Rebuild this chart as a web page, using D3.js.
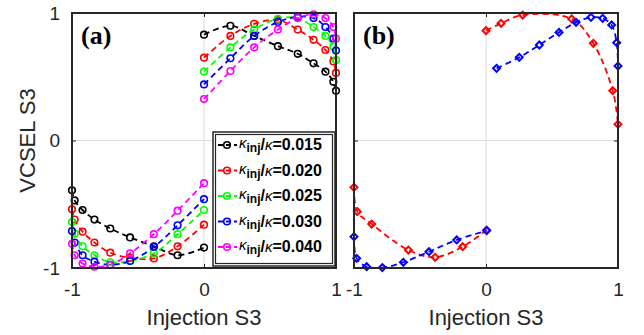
<!DOCTYPE html>
<html>
<head>
<meta charset="utf-8">
<script src="https://cdn.jsdelivr.net/npm/d3@7"></script>
<style>
  body { margin: 0; background: #fff; }
  svg { display: block; font-family: "Liberation Sans", Arial, sans-serif; }
</style>
</head>
<body>
<svg id="chart" width="644" height="335"></svg>
<script>
// ---- data ----
const axisTicks = [-1, 0, 1];

// panel (a): injection S3 sample points, shared by all kappa series
const xLeft = [-1, -0.98, -0.92, -0.83, -0.71, -0.56, -0.38, -0.2, 0];
const xRight = [0, 0.2, 0.38, 0.56, 0.71, 0.83, 0.92, 0.98, 1];

const kappaLabels = ["0.015", "0.020", "0.025", "0.030", "0.040"];
const kappaColors = ["#000000", "#ff0000", "#00ff00", "#0000ff", "#ff00ff"];

const k015Left = [-0.39, -0.47, -0.545, -0.62, -0.69, -0.76, -0.83, -0.90, -0.84];
const k015Right = [0.83, 0.90, 0.82, 0.74, 0.68, 0.605, 0.54, 0.46, 0.39];
const k020Left = [-0.54, -0.62, -0.715, -0.80, -0.88, -0.92, -0.925, -0.83, -0.66];
const k020Right = [0.65, 0.82, 0.915, 0.945, 0.87, 0.79, 0.71, 0.62, 0.53];
const k025Left = [-0.64, -0.73, -0.83, -0.90, -0.955, -0.945, -0.885, -0.735, -0.545];
const k025Right = [0.54, 0.73, 0.87, 0.955, 0.96, 0.89, 0.82, 0.735, 0.63];
const k030Left = [-0.71, -0.80, -0.90, -0.95, -0.975, -0.945, -0.835, -0.665, -0.46];
const k030Right = [0.44, 0.645, 0.82, 0.93, 0.97, 0.96, 0.89, 0.80, 0.705];
const k040Left = [-0.81, -0.90, -0.965, -0.99, -0.975, -0.885, -0.735, -0.55, -0.335];
const k040Right = [0.325, 0.545, 0.73, 0.87, 0.96, 0.99, 0.96, 0.89, 0.80];

// panel (b): two measured traces
const bRedLeftX = [-1, -0.975, -0.866, -0.588, -0.386, -0.177, 0.005];
const bRedLeftY = [-0.367, -0.558, -0.655, -0.859, -0.916, -0.833, -0.702];
const bRedRightX = [0, 0.114, 0.278, 0.649, 0.813, 0.96, 1.0];
const bRedRightY = [0.861, 0.919, 0.984, 0.953, 0.762, 0.391, 0.127];
const bBlueLeftX = [-1, -0.98, -0.904, -0.785, -0.626, -0.432, -0.222, 0.005];
const bBlueLeftY = [-0.754, -0.924, -0.99, -0.997, -0.955, -0.872, -0.78, -0.707];
const bBlueRightX = [0.08, 0.252, 0.404, 0.553, 0.682, 0.795, 0.884, 0.952, 0.99, 1.0];
const bBlueRightY = [0.566, 0.652, 0.749, 0.848, 0.927, 0.966, 0.958, 0.906, 0.767, 0.584];

// ---- layout ----
const svg = d3.select("#chart");
const plotTop = 13, plotBottom = 268;
const panels = [
  { id: "a", left: 72, right: 336, yLabels: true },
  { id: "b", left: 354, right: 618, yLabels: false },
];
const axisColor = "#262626";
const y = d3.scaleLinear().domain([-1, 1]).range([plotBottom, plotTop]);

const line = d3.line()
  .x((d) => d.sx)
  .y((d) => d.sy)
  .curve(d3.curveCatmullRom.alpha(0.5));

const zip = (xs, ys) => xs.map((v, i) => [v, ys[i]]);
const fmt = (d) => String(d);

// series per panel
const seriesA = [
  [k015Left, k015Right], [k020Left, k020Right], [k025Left, k025Right],
  [k030Left, k030Right], [k040Left, k040Right],
].map(([l, r], i) => ({
  color: kappaColors[i],
  branches: [zip(xLeft, l), zip(xRight, r)],
}));

const seriesB = [
  { color: "#ff0000", branches: [zip(bRedLeftX, bRedLeftY), zip(bRedRightX, bRedRightY)] },
  { color: "#0000ff", branches: [zip(bBlueLeftX, bBlueLeftY), zip(bBlueRightX, bBlueRightY)] },
];

function drawMarker(g, kind, cx, cy, color) {
  if (kind === "circle") {
    g.append("circle")
      .attr("cx", cx).attr("cy", cy).attr("r", 3.3)
      .attr("fill", "none").attr("stroke", color).attr("stroke-width", 1.6);
  } else {
    g.append("path")
      .attr("d", d3.symbol(d3.symbolSquare, 24)())
      .attr("transform", `translate(${cx},${cy}) rotate(45)`)
      .attr("fill", "none").attr("stroke", color).attr("stroke-width", 2);
  }
}

panels.forEach((p, pi) => {
  const x = d3.scaleLinear().domain([-1, 1]).range([p.left, p.right]);
  const g = svg.append("g").attr("class", "panel-" + p.id);

  // clip
  svg.append("clipPath").attr("id", "clip-" + p.id)
    .append("rect")
    .attr("x", p.left).attr("y", plotTop)
    .attr("width", p.right - p.left).attr("height", plotBottom - plotTop);

  // grid at 0
  g.append("line")
    .attr("x1", x(0)).attr("x2", x(0)).attr("y1", plotTop).attr("y2", plotBottom)
    .attr("stroke", "#dcdcdc").attr("stroke-width", 1);
  g.append("line")
    .attr("x1", p.left).attr("x2", p.right).attr("y1", y(0)).attr("y2", y(0))
    .attr("stroke", "#dcdcdc").attr("stroke-width", 1);

  // axes (ticks pointing inward)
  const styleAxis = (a) => {
    a.select(".domain").remove();
    a.selectAll("line").attr("stroke", axisColor);
    a.selectAll("text").attr("fill", axisColor).style("font-size", "19px");
  };
  g.append("g").attr("transform", `translate(0,${plotBottom})`)
    .call(d3.axisBottom(x).tickValues(axisTicks).tickFormat(fmt)
      .tickSizeInner(-4).tickSizeOuter(0).tickPadding(15))
    .call(styleAxis);
  g.append("g").attr("transform", `translate(0,${plotTop})`)
    .call(d3.axisTop(x).tickValues(axisTicks).tickFormat("")
      .tickSizeInner(-4).tickSizeOuter(0))
    .call(styleAxis);
  g.append("g").attr("transform", `translate(${p.left},0)`)
    .call(d3.axisLeft(y).tickValues(axisTicks).tickFormat(p.yLabels ? fmt : "")
      .tickSizeInner(-4).tickSizeOuter(0).tickPadding(12))
    .call(styleAxis);
  g.append("g").attr("transform", `translate(${p.right},0)`)
    .call(d3.axisRight(y).tickValues(axisTicks).tickFormat("")
      .tickSizeInner(-4).tickSizeOuter(0))
    .call(styleAxis);

  // data
  const data = pi === 0 ? seriesA : seriesB;
  const kind = pi === 0 ? "circle" : "diamond";
  const plot = g.append("g").attr("clip-path", `url(#clip-${p.id})`);
  data.forEach((s) => {
    s.branches.forEach((br) => {
      const pts = br.map(([dx, dy]) => ({ sx: x(dx), sy: y(dy) }));
      plot.append("path")
        .attr("d", line(pts))
        .attr("fill", "none")
        .attr("stroke", s.color)
        .attr("stroke-width", 1.8)
        .attr("stroke-dasharray", "6 4");
    });
  });
  const marks = g.append("g");
  data.forEach((s) => {
    s.branches.forEach((br) => {
      br.forEach(([dx, dy]) => drawMarker(marks, kind, x(dx), y(dy), s.color));
    });
  });

  // box
  g.append("rect")
    .attr("x", p.left).attr("y", plotTop)
    .attr("width", p.right - p.left).attr("height", plotBottom - plotTop)
    .attr("fill", "none").attr("stroke", axisColor).attr("stroke-width", 2);

  // panel tag
  g.append("text")
    .attr("x", p.left + 9).attr("y", 44)
    .attr("font-family", "'Liberation Serif', 'Times New Roman', serif")
    .attr("font-weight", "bold").attr("font-size", 26)
    .attr("fill", "#000")
    .text(`(${p.id})`);

  // x label
  g.append("text")
    .attr("x", x(0)).attr("y", 325)
    .attr("text-anchor", "middle").attr("font-size", 22).attr("fill", axisColor)
    .text("Injection S3");
});

// y label
svg.append("text")
  .attr("transform", `translate(35,${y(0)}) rotate(-90)`)
  .attr("text-anchor", "middle").attr("font-size", 22).attr("fill", axisColor)
  .text("VCSEL S3");

// ---- legend (panel a) ----
const leg = svg.append("g").attr("class", "legend");
leg.append("rect").attr("x", 213).attr("y", 132).attr("width", 122).attr("height", 134)
  .attr("fill", "#fff").attr("stroke", axisColor).attr("stroke-width", 1.5);
leg.append("rect").attr("x", 215.5).attr("y", 134.5).attr("width", 117).attr("height", 129)
  .attr("fill", "none").attr("stroke", axisColor).attr("stroke-width", 1.2);

const legRow = d3.scaleLinear().domain([0, kappaLabels.length - 1]).range([145, 247]);
kappaLabels.forEach((lab, i) => {
  const cy = legRow(i);
  const c = kappaColors[i];
  leg.append("line").attr("x1", 218).attr("x2", 237).attr("y1", cy).attr("y2", cy)
    .attr("stroke", c).attr("stroke-width", 1.8).attr("stroke-dasharray", "5 3");
  drawMarker(leg, "circle", 227, cy, c);
  const t = leg.append("text").attr("x", 239).attr("y", cy + 5)
    .attr("font-size", 16).attr("font-weight", "bold").attr("fill", "#000");
  t.append("tspan").attr("font-style", "italic").attr("font-weight", "normal")
    .attr("font-size", 15).attr("dy", -2).text("κ");
  t.append("tspan").attr("font-size", 12).attr("dy", 4).text("inj");
  t.append("tspan").attr("dy", -2).text("/");
  t.append("tspan").attr("font-style", "italic").attr("font-weight", "normal")
    .attr("font-size", 15).text("κ");
  t.append("tspan").text("=" + lab);
});
</script>
</body>
</html>
